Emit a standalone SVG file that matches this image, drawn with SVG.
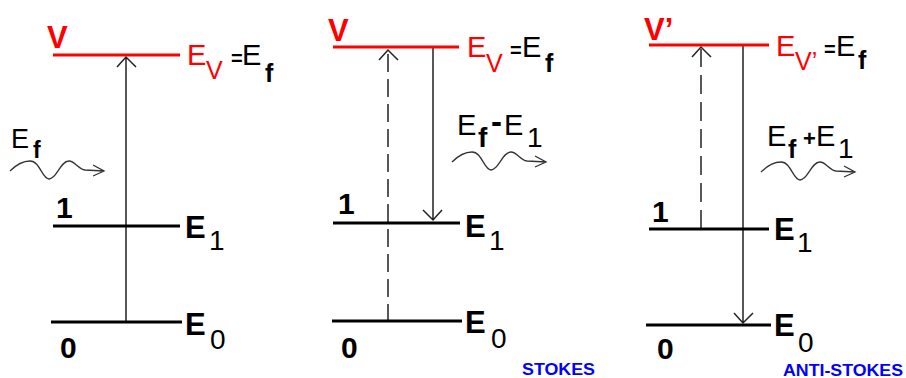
<svg xmlns="http://www.w3.org/2000/svg" width="906" height="378" viewBox="0 0 906 378">
<defs>
<style>
text{font-family:"Liberation Sans",Arial,sans-serif;}
.lvl{stroke:#000;stroke-width:3;fill:none;}
.vl{stroke:#ff0000;stroke-width:3;fill:none;}
.ar{stroke:#222;stroke-width:1.5;fill:none;}
.da{stroke:#222;stroke-width:1.5;fill:none;stroke-dasharray:18 7;}
.wv{stroke:#333;stroke-width:1.3;fill:none;}
.red{fill:#ff0000;}
.blk{fill:#000;}
.b{font-weight:bold;}
.big{font-size:29px;}
.dig{font-size:30px;font-weight:bold;}
.lab{font-size:31px;font-weight:bold;}
.sub{font-size:28px;}
.sv{font-size:25px;}
.eq{font-size:20px;font-weight:bold;}
.blue{fill:#0000ff;font-weight:bold;font-size:16px;}
</style>
<path id="wave" d="M0,0 C6,-6 12,-10 20,-10 C30,-10 32,8 39,8 C47,8 50,-10 59,-10 C65,-10 68,-2 75,-1 L94,0 M83,-6 L94,0 L83,5"/>
</defs>
<g id="connectors">
<path class="ar" d="M126,322 V57 M117,67 L126,57 L136,67"/>
<path class="da" d="M388,322 V52"/>
<path class="ar" d="M379,60 L388,50 L398,60"/>
<path class="ar" d="M433,48 V220 M423,210 L433,220 L442,210"/>
<path class="da" style="stroke-dasharray:19 8" d="M701,229 V49"/>
<path class="ar" d="M692,57 L701,47 L711,57"/>
<path class="ar" d="M743,45 V323 M734,313 L743,323 L753,313"/>
<use href="#wave" class="wv" x="10" y="171"/>
<use href="#wave" class="wv" x="452" y="162"/>
<use href="#wave" class="wv" x="761" y="172"/>
</g>
<g id="rayleigh">
<g id="p1-level-v"><line class="vl" x1="53" y1="55" x2="180" y2="55"/>
<text x="47" y="48" class="red b" font-size="31">V</text>
<text x="187" y="65" class="red big">E</text><text x="206" y="79" class="red sv">V</text>
<text x="231" y="65" class="blk eq">=</text>
<text x="242" y="65" class="blk big">E</text><text x="265" y="82" class="blk b" font-size="25">f</text></g>
<g id="p1-level-1"><line class="lvl" x1="53" y1="226" x2="180" y2="226"/>
<text x="56" y="218" class="dig">1</text>
<text x="185" y="238" class="lab">E</text><text x="209" y="250" class="sub">1</text></g>
<g id="p1-level-0"><line class="lvl" x1="51" y1="322" x2="182" y2="322"/>
<text x="60" y="358" class="dig">0</text>
<text x="185" y="335" class="lab">E</text><text x="210" y="349" class="sub">0</text></g>
<g id="p1-photon"><text x="11" y="148" font-size="27">E</text><text x="33" y="158" class="b" font-size="23">f</text></g>
</g>
<g id="stokes">
<g id="p2-level-v"><line class="vl" x1="333" y1="47" x2="459" y2="47"/>
<text x="328" y="41" class="red b" font-size="31">V</text>
<text x="467" y="57" class="red big">E</text><text x="486" y="72" class="red sv">V</text>
<text x="510" y="57" class="blk eq">=</text>
<text x="522" y="57" class="blk big">E</text><text x="545" y="72" class="blk b" font-size="25">f</text></g>
<g id="p2-level-1"><line class="lvl" x1="333" y1="223" x2="460" y2="223"/>
<text x="338" y="214" class="dig">1</text>
<text x="465" y="237" class="lab">E</text><text x="489" y="250" class="sub">1</text></g>
<g id="p2-level-0"><line class="lvl" x1="332" y1="321" x2="462" y2="321"/>
<text x="341" y="358" class="dig">0</text>
<text x="465" y="333" class="lab">E</text><text x="491" y="348" class="sub">0</text></g>
<g id="p2-photon"><text x="457" y="135" class="big">E</text><text x="478" y="147" class="b" font-size="28">f</text>
<text x="491" y="133" class="b" font-size="33">-</text>
<text x="504" y="135" class="big">E</text><text x="527" y="147" class="sub">1</text></g>
<text id="label-stokes" x="522" y="375" class="blue" textLength="73" lengthAdjust="spacingAndGlyphs">STOKES</text>
</g>
<g id="anti-stokes">
<g id="p3-level-v"><line class="vl" x1="649" y1="45" x2="769" y2="45"/>
<text x="644" y="40" class="red b" font-size="31">V’</text>
<text x="776" y="56" class="red big">E</text><text x="795" y="70" class="red sv">V’</text>
<text x="824" y="56" class="blk eq">=</text>
<text x="836" y="56" class="blk big">E</text><text x="858" y="69" class="blk b" font-size="25">f</text></g>
<g id="p3-level-1"><line class="lvl" x1="649" y1="229" x2="769" y2="229"/>
<text x="652" y="222" class="dig">1</text>
<text x="774" y="240" class="lab">E</text><text x="797" y="252" class="sub">1</text></g>
<g id="p3-level-0"><line class="lvl" x1="646" y1="325" x2="771" y2="325"/>
<text x="657" y="359" class="dig">0</text>
<text x="774" y="336" class="lab">E</text><text x="798" y="352" class="sub">0</text></g>
<g id="p3-photon"><text x="767" y="146" class="big">E</text><text x="788" y="158" class="b" font-size="25">f</text>
<text x="803" y="146" class="b" font-size="22">+</text>
<text x="816" y="146" class="big">E</text><text x="838" y="158" class="sub">1</text></g>
<text id="label-anti-stokes" x="783" y="376" class="blue" textLength="120" lengthAdjust="spacingAndGlyphs">ANTI-STOKES</text>
</g>
</svg>
